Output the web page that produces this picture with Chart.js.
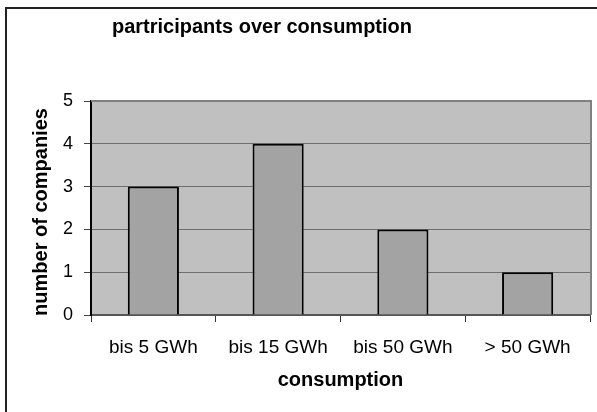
<!DOCTYPE html>
<html>
<head>
<meta charset="utf-8">
<script src="https://cdn.jsdelivr.net/npm/chart.js@4.4.1/dist/chart.umd.min.js"></script>
<style>
  html, body { margin: 0; padding: 0; background: #fff; }
  #wrap { position: relative; width: 597px; height: 412px; }
</style>
</head>
<body>
<div id="wrap"><canvas id="myChart" width="597" height="412"></canvas></div>
<script>
// values
var categories = ["bis 5 GWh", "bis 15 GWh", "bis 50 GWh", "> 50 GWh"];
var companies = [3, 4, 2, 1];
var yTicks = [0, 1, 2, 3, 4, 5];

var chartTitle = "partricipants over consumption";
var xTitle = "consumption";
var yTitle = "number of companies";

var fontFam = '"Liberation Sans", Arial, sans-serif';

// gray plot area, frame and texts like the old excel chart
var excelLook = {
  id: "excelLook",
  beforeDraw: function(chart) {
    var ctx = chart.ctx, a = chart.chartArea;
    ctx.save();
    ctx.fillStyle = "#c0c0c0";
    ctx.fillRect(a.left, a.top, a.right - a.left, a.bottom - a.top);
    ctx.restore();
  },
  afterDraw: function(chart) {
    var ctx = chart.ctx, a = chart.chartArea;
    ctx.save();
    // plot border top + right
    ctx.fillStyle = "#808080";
    ctx.fillRect(a.left, a.top - 1, a.right - a.left + 2, 2);
    ctx.fillRect(a.right, a.top - 1, 2, a.bottom - a.top + 1);
    // outer chart frame (only left and top are inside the picture)
    ctx.fillStyle = "#222";
    ctx.fillRect(5, 7, 2, 405);
    ctx.fillRect(5, 7, 592, 2);
    // texts
    ctx.fillStyle = "#000";
    ctx.textAlign = "center";
    ctx.textBaseline = "alphabetic";
    ctx.font = "bold 20px " + fontFam;
    ctx.fillText(chartTitle, 262, 33);
    ctx.fillText(xTitle, (a.left + a.right) / 2, 386);
    ctx.translate(47, 212);
    ctx.rotate(-Math.PI / 2);
    ctx.fillText(yTitle, 0, 0);
    ctx.restore();
  }
};

var ctx = document.getElementById("myChart").getContext("2d");
var myChart = new Chart(ctx, {
  type: "bar",
  data: {
    labels: categories,
    datasets: [{
      label: "companies",
      data: companies,
      backgroundColor: "#a3a3a3",
      borderColor: "#000",
      borderWidth: { top: 2, left: 2, right: 2, bottom: 0 },
      borderSkipped: false,
      barPercentage: 0.41,
      categoryPercentage: 1
    }]
  },
  options: {
    responsive: false,
    animation: false,
    layout: { padding: { top: 101, right: 7, left: 0, bottom: 0 } },
    plugins: {
      legend: { display: false },
      title: { display: false },
      tooltip: { enabled: false }
    },
    scales: {
      x: {
        offset: true,
        afterFit: function(s) { s.height = 97; },
        grid: { offset: true, drawOnChartArea: false, tickLength: 7, color: "#333" },
        border: { color: "#555", width: 2 },
        ticks: { color: "#000", padding: 14, font: { family: fontFam, size: 19 } }
      },
      y: {
        min: 0,
        max: 5,
        afterFit: function(s) { s.width = 91; },
        afterBuildTicks: function(s) { s.ticks = yTicks.map(function(v) { return { value: v }; }); },
        grid: { color: "#6e6e6e", tickColor: "#444", tickLength: 7 },
        border: { color: "#000", width: 2 },
        ticks: { color: "#000", padding: 11, font: { family: fontFam, size: 18 } }
      }
    }
  },
  plugins: [excelLook]
});
</script>
</body>
</html>
